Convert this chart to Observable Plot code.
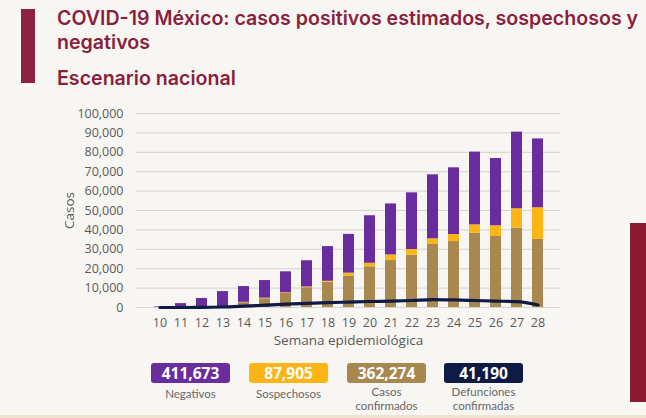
<!DOCTYPE html>
<html><head><meta charset="utf-8">
<script src="https://cdn.jsdelivr.net/npm/d3@7"></script>
<script src="https://cdn.jsdelivr.net/npm/@observablehq/plot@0.6"></script>
<style>
body{margin:0;background:#f7f5f2;font-family:"Open Sans",sans-serif;}
#wrap{position:relative;width:646px;height:418px;overflow:hidden;background:#f8f6f3;}
#chart{position:absolute;left:0;top:0;}
.t{position:absolute;color:#8a1f3d;font-weight:600;font-family:Inter,sans-serif;}
.box{position:absolute;top:363px;width:79px;height:20px;border-radius:3px;color:#fff;font-weight:700;font-size:15.5px;line-height:20px;text-align:center;}
.lab{position:absolute;width:110px;text-align:center;color:#666;font-family:Lato,sans-serif;font-size:11.5px;line-height:14px;}
</style></head>
<body><div id="wrap">
<div style="position:absolute;left:21px;top:9px;width:14px;height:74px;background:#8e2341"></div>
<div class="t" style="left:57px;top:6px;font-size:19.6px;line-height:24px;white-space:nowrap">COVID-19 México: casos positivos estimados, sospechosos y<br>negativos</div>
<div class="t" style="left:57px;top:66px;font-size:19.6px;line-height:24px">Escenario nacional</div>
<div style="position:absolute;left:630px;top:223px;width:16px;height:179px;background:#8c1a30"></div>
<div style="position:absolute;left:0;top:415px;width:646px;height:3px;background:#efe4d2"></div>
<div id="chart"></div>
<div id="legend"></div>
</div>
<script>
const weeks = [10,11,12,13,14,15,16,17,18,19,20,21,22,23,24,25,26,27,28];
const confirmados = [50,100,300,300,2500,4500,7300,10200,13000,16000,21000,24200,27000,32500,34000,38300,36600,40900,35100];
const sospechosos = [0,0,50,100,200,300,300,400,500,1700,1800,2900,2900,2900,3600,4300,5500,10000,16300];
const negativos = [300,1900,4300,7800,8100,9100,10800,13500,17900,20000,24500,26300,29200,33000,34400,37500,34700,39500,35500];
const defunciones = [0,10,50,250,700,1200,1700,2100,2500,2800,3100,3300,3600,4100,3900,3600,3300,3000,1300];
const seriesNames = ["Casos confirmados","Sospechosos","Negativos"];
const seriesColors = ["#a8884f","#fdb515","#6a2c9f"];
const deathColor = "#0f1a45";
const totalLabels = ["Negativos","Sospechosos","Casos<br>confirmados","Defunciones<br>confirmadas"];
const totalValues = [411673, 87905, 362274, 41190];
const totalColors = ["#6a2c9f","#fdb515","#a8884f","#0f1a45"];
const yTicks = [0,10000,20000,30000,40000,50000,60000,70000,80000,90000,100000];

const rows = [];
weeks.forEach((w,i)=>{
  rows.push({week:w, serie:seriesNames[0], value:confirmados[i]});
  rows.push({week:w, serie:seriesNames[1], value:sospechosos[i]});
  rows.push({week:w, serie:seriesNames[2], value:negativos[i]});
});
const deaths = weeks.map((w,i)=>({week:w, value:defunciones[i]}));

const chart = Plot.plot({
  width:646, height:418,
  marginLeft:136, marginRight:86, marginTop:113, marginBottom:111,
  style:{background:"transparent", fontFamily:"Open Sans, sans-serif", color:"#5a5a5a"},
  x:{type:"band", domain:weeks, padding:0.5},
  y:{domain:[0,100000]},
  color:{domain:seriesNames, range:seriesColors},
  marks:[
    Plot.gridY(yTicks,{stroke:"#d6d3d0", strokeOpacity:1, strokeWidth:1}),
    Plot.axisY({ticks:yTicks, tickFormat:d3.format(","), tickSize:0, tickPadding:13, fontSize:12.5,
      label:"Casos", labelAnchor:"center", labelOffset:72, labelArrow:"none"}),
    Plot.axisX({tickSize:0, tickPadding:11, fontSize:12.5, label:"Semana epidemiológica",
      labelAnchor:"center", labelOffset:37, labelArrow:"none"}),
    Plot.barY(rows,{x:"week", y:"value", fill:"serie", order:seriesNames}),
    Plot.line(deaths,{x:"week", y:"value", stroke:deathColor, strokeWidth:3.2, curve:"monotone-x"})
  ]
});
chart.querySelectorAll("g[aria-label='x-axis label'] text, g[aria-label='y-axis label'] text").forEach(t=>t.setAttribute("font-size","13.5"));
document.getElementById("chart").appendChild(chart);

const lg = document.getElementById("legend");
const lefts = [151,249,347,444];
totalValues.forEach((v,i)=>{
  const b = document.createElement("div");
  b.className="box"; b.style.left=lefts[i]+"px"; b.style.background=totalColors[i];
  b.textContent = d3.format(",")(v);
  lg.appendChild(b);
  const l = document.createElement("div");
  l.className="lab"; l.style.left=(lefts[i]+39.5-55)+"px";
  l.style.top = (totalLabels[i].includes("<br>") ? 385 : 387)+"px";
  l.innerHTML = totalLabels[i];
  lg.appendChild(l);
});
</script>
</body></html>
